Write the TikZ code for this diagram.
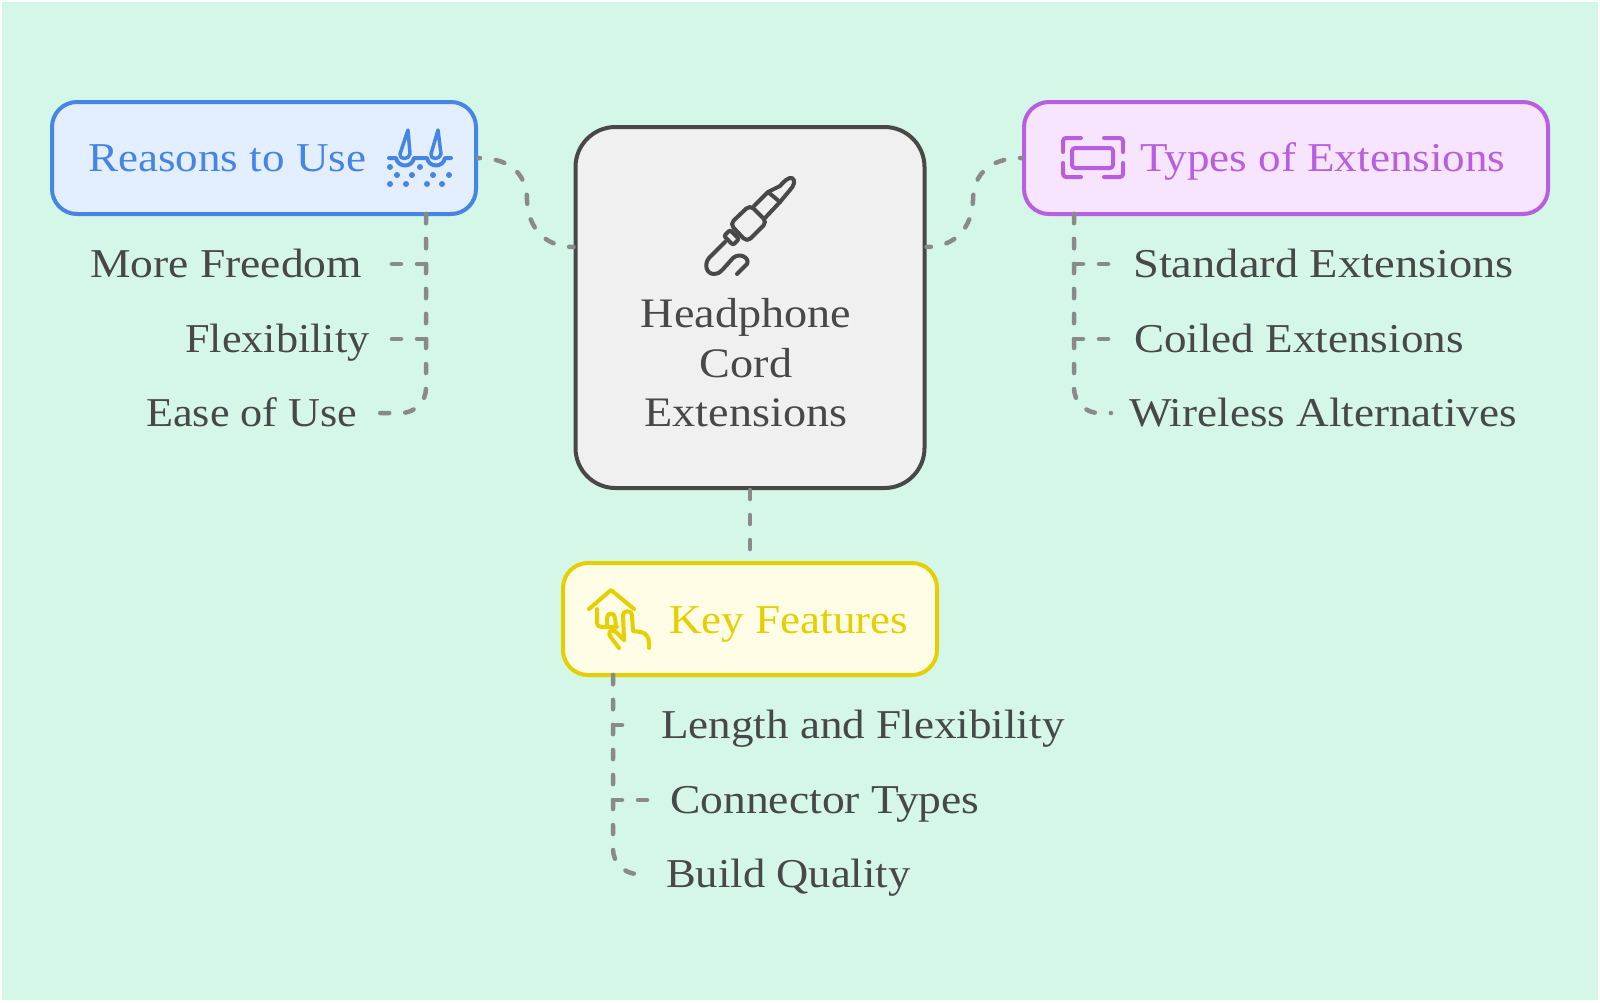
\documentclass[tikz,border=0pt]{standalone}
\usepackage{fontspec}
\setmainfont[FakeStretch=1.10]{Liberation Serif}
\usepackage{xcolor}
\usepackage{graphicx}
\usetikzlibrary{positioning,calc}
\definecolor{mintbg}{HTML}{D5F7E7}
\definecolor{inkgray}{HTML}{484848}
\definecolor{linkgray}{HTML}{8A8A8A}
\definecolor{reasonsblue}{HTML}{4585E6}
\definecolor{reasonsfill}{HTML}{E3EEFF}
\definecolor{typespurple}{HTML}{B85FE0}
\definecolor{typesfill}{HTML}{F7E4FF}
\definecolor{keyyellow}{HTML}{E6CF00}
\definecolor{keyfill}{HTML}{FFFDE5}

\begin{document}
\begin{tikzpicture}[
  x=1pt, y=-1pt,
  mainbox/.style={draw, line width=4pt, rounded corners=25pt, minimum height=112pt, inner sep=0pt},
  boxtext/.style={anchor=west, inner sep=0pt, text height=26pt, text depth=0pt, font=\fontsize{41}{49}\selectfont},
  leaf/.style={anchor=west, inner sep=0pt, text height=26pt, text depth=0pt, text=inkgray, font=\fontsize{41}{49}\selectfont},
  link/.style={draw=linkgray, line width=4.5pt, line cap=round, dash pattern=on 9pt off 16pt},
  curvelink/.style={link, dash phase=7pt},
  icon/.style={line width=4pt, line cap=round, line join=round}
]
\useasboundingbox (0,0) rectangle (1600,1002);
\fill[white] (0,0) rectangle (1600,1002);
\fill[mintbg] (2,2) rectangle (1598,1000);

% main boxes
\node[mainbox, draw=inkgray, fill=black!6, rounded corners=40pt, minimum width=349pt, minimum height=361pt] (cordbox) at (750,307.5) {};
\node[mainbox, draw=reasonsblue, fill=reasonsfill, minimum width=424pt] (reasonsbox) at (264,158) {};
\node[mainbox, draw=typespurple, fill=typesfill, minimum width=524pt] (typesbox) at (1286,158) {};
\node[mainbox, draw=keyyellow, fill=keyfill, minimum width=374pt, below=71pt of cordbox] (keybox) {};

% labels
\node[boxtext, text=reasonsblue] (reasonslabel) at (88,158) {Reasons to Use};
\node[boxtext, text=typespurple] (typeslabel) at (1140,158) {Types of Extensions};
\node[boxtext, text=keyyellow] (keylabel) at (669,620) {Key Features};
\node[align=center, inner sep=0pt, text=inkgray, font=\fontsize{42}{49.5}\selectfont] (cordlabel) at (746,363) {Headphone\\Cord\\Extensions};

% leaves
\node[leaf] (morefreedom) at (90,264) {\scalebox{1.01}[1]{More Freedom}};
\node[leaf] (flexibility) at (185,339) {\scalebox{.98}[1]{Flexibility}};
\node[leaf] (easeofuse) at (146,413) {\scalebox{.98}[1]{Ease of Use}};
\node[leaf] (standardext) at (1133,264) {\scalebox{1.03}[1]{Standard Extensions}};
\node[leaf] (coiledext) at (1134,339) {Coiled Extensions};
\node[leaf] (wirelessalt) at (1129,413) {Wireless Alternatives};
\node[leaf] (lengthflex) at (661,725) {Length and Flexibility};
\node[leaf] (connectortypes) at (670,800) {\scalebox{1.01}[1]{Connector Types}};
\node[leaf] (buildquality) at (666,874) {\scalebox{.99}[1]{Build Quality}};

% links
\coordinate (cordwest) at (cordbox.west |- 0,247);
\coordinate (cordeast) at (cordbox.east |- 0,247);
\coordinate (reasonstrunk) at (426,214);
\coordinate (typestrunk) at (1074,214);
\coordinate (keytrunk) at (613,675);
\coordinate (cordfoot) at (750,552);

\draw[curvelink] (reasonsbox.east) .. controls (514,158) and (527,178) .. (527,200) .. controls (528,228) and (545,247) .. (cordwest);
\draw[curvelink] (typesbox.west) .. controls (986,158) and (973,178) .. (973,200) .. controls (972,228) and (955,247) .. (cordeast);
\draw[link] (cordbox.south) -- (cordfoot);

\draw[link] (reasonstrunk) |- ($(morefreedom.east)+(28,0)$);
\draw[link] (reasonstrunk) |- ($(flexibility.east)+(22,0)$);
\draw[link, rounded corners=25pt] (reasonstrunk) |- ($(easeofuse.east)+(21,0)$);
\draw[link] (typestrunk) |- ($(standardext.west)+(-22,0)$);
\draw[link] (typestrunk) |- ($(coiledext.west)+(-23,0)$);
\draw[link, rounded corners=25pt] (typestrunk) |- ($(wirelessalt.west)+(-18,0)$);
\draw[link] (keytrunk) |- ($(lengthflex.west)+(-37,0)$);
\draw[link] (keytrunk) |- ($(connectortypes.west)+(-21,0)$);
\draw[link, rounded corners=25pt] (keytrunk) |- ($(buildquality.west)+(-33,0)$);

% reasons icon
\begin{scope}[icon, draw=reasonsblue, fill=reasonsblue]
  \draw[line width=3.5pt, fill=reasonsfill] (408,130) -- (400,154) .. controls (399,160) and (409,160) .. (410,154) -- cycle;
  \draw[line width=3.5pt, fill=reasonsfill] (438,130) -- (431,154) .. controls (430,160) and (440,160) .. (441,154) -- cycle;
  \draw[line width=4pt, fill=none] (389,158) -- (396,158) .. controls (398,168) and (412,168) .. (414,158) -- (427,158) .. controls (429,168) and (443,168) .. (445,158) -- (451,158);
  \foreach \px/\py in {390/167, 420/167, 397/175, 412/175, 433/175, 449/175, 390/184, 406/184, 427/184, 442/184}
    \fill (\px,\py) circle (3pt);
\end{scope}

% jack icon
\begin{scope}[icon, draw=inkgray]
  \draw[rounded corners=5pt] (750,205) -- (767,222) -- (747,242) -- (730,224) -- cycle;
  \draw[rounded corners=2pt] (730,230) -- (739,239) -- (733,245) -- (724,236) -- cycle;
  \draw (754,206) -- (768,192) -- (780,202) -- (765,218);
  \draw (768,192) -- (780,186) .. controls (784,181) and (789,177) .. (792,178) .. controls (796,180) and (794,186) .. (790,190) -- (780,202);
  \draw (725,242) -- (709,258) .. controls (704,264) and (706,274) .. (714,274) .. controls (720,274) and (722,270) .. (733,258) .. controls (740,252) and (750,258) .. (747,264) -- (737,274);
\end{scope}

% types icon
\begin{scope}[icon, draw=typespurple, rounded corners=3pt]
  \draw (1072,148) rectangle (1113,168);
  \draw (1081,138) -- (1063,138) -- (1063,152);
  \draw (1104,138) -- (1123,138) -- (1123,152);
  \draw (1063,163) -- (1063,177) -- (1081,177);
  \draw (1123,163) -- (1123,177) -- (1104,177);
\end{scope}

% key icon
\begin{scope}[icon, draw=keyyellow]
  \draw (589,609) -- (611,590) -- (634,609);
  \draw (597,609) -- (597,622) .. controls (597,626) and (599,627) .. (602,627) -- (617,627);
  \draw (607,626) -- (607,618) .. controls (607,612) and (615,612) .. (615,618) -- (616,627);
  \draw (610,636) -- (619,648);
  \draw (624,640) -- (615,631) .. controls (610,629) and (608,633) .. (610,636);
  \draw (624,640) -- (623,615) .. controls (623,610) and (632,610) .. (632,615) -- (633,631) -- (640,632) .. controls (647,633) and (649,638) .. (649,643) -- (649,648);
\end{scope}
\end{tikzpicture}
\end{document}
